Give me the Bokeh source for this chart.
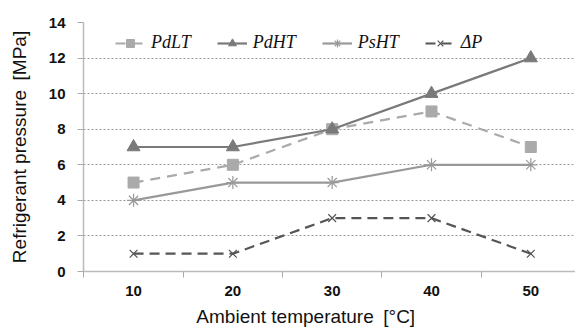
from bokeh.plotting import figure
from bokeh.models import FixedTicker, Range1d, Legend, LegendItem
from bokeh.embed import file_html
from bokeh.resources import INLINE

temps = [10, 20, 30, 40, 50]
tick_labels = ["10", "20", "30", "40", "50"]
pdlt = [5, 6, 8, 9, 7]
pdht = [7, 7, 8, 10, 12]
psht = [4, 5, 5, 6, 6]
dp = [1, 1, 3, 3, 1]

p = figure(width=575, height=332, output_backend="svg", toolbar_location=None,
           x_range=Range1d(4.96, 54.5), y_range=Range1d(0, 14),
           min_border_left=83, min_border_right=0, min_border_top=22, min_border_bottom=61)
p.outline_line_color = None
p.background_fill_color = "white"

# lines and markers
r1l = p.line(temps, pdlt, line_color="#aaaaaa", line_width=2.2, line_dash="10 7")
r1m = p.scatter(temps, pdlt, marker="square", size=11, fill_color="#aaaaaa", line_color="#aaaaaa")
r2l = p.line(temps, pdht, line_color="#7a7a7a", line_width=2.2)
r2m = p.scatter(temps, pdht, marker="triangle", size=13, fill_color="#7a7a7a", line_color="#7a7a7a")
r3l = p.line(temps, psht, line_color="#999999", line_width=2.2)
r3m = p.scatter(temps, psht, marker="asterisk", size=13, line_color="#999999", line_width=1.2)
r4l = p.line(temps, dp, line_color="#555555", line_width=2.2, line_dash="10 6")
r4m = p.scatter(temps, dp, marker="x", size=11, line_color="#555555", line_width=1.2)

# axes
xt = FixedTicker(ticks=temps, minor_ticks=[5, 15, 25, 35, 45, 55])
p.xaxis.ticker = xt
p.xaxis.major_label_overrides = {t: l for t, l in zip(temps, tick_labels)}
p.xaxis.major_tick_out = 0
p.xaxis.major_tick_in = 0
p.xaxis.minor_tick_out = 6
p.xaxis.minor_tick_in = 0
p.xaxis.minor_tick_line_color = "#aaaaaa"
p.xaxis.axis_line_color = "#bbbbbb"
p.xaxis.axis_line_width = 1.5
p.xaxis.major_label_standoff = 8
p.xaxis.axis_label = "Ambient temperature\u2002[\u00b0C]" + "\u00a0" * 9
p.xaxis.axis_label_standoff = 7

p.yaxis.ticker = FixedTicker(ticks=[0, 2, 4, 6, 8, 10, 12, 14])
p.yaxis.major_tick_out = 6
p.yaxis.major_tick_in = 0
p.yaxis.minor_tick_line_color = None
p.yaxis.major_tick_line_color = "#aaaaaa"
p.yaxis.axis_line_color = "#bbbbbb"
p.yaxis.axis_line_width = 1.5
p.yaxis.major_label_standoff = 12
p.yaxis.axis_label = "Refrigerant pressure\u2002[MPa]"
p.yaxis.axis_label_standoff = 16

for ax in (p.xaxis, p.yaxis):
    ax.major_label_text_font = "Arial"
    ax.major_label_text_font_style = "bold"
    ax.major_label_text_font_size = "15px"
    ax.major_label_text_color = "#111111"
    ax.axis_label_text_font = "'Liberation Sans'"
    ax.axis_label_text_font_style = "normal"
    ax.axis_label_text_font_size = "19px"
    ax.axis_label_text_color = "#111111"

p.xgrid.grid_line_color = None
p.ygrid.ticker = FixedTicker(ticks=[2, 4, 6, 8, 10, 12, 14])
p.ygrid.grid_line_color = "#999999"
p.ygrid.grid_line_dash = "2 2"
p.ygrid.grid_line_width = 1

legend = Legend(items=[
    LegendItem(label="PdLT", renderers=[r1l, r1m]),
    LegendItem(label="PdHT", renderers=[r2l, r2m]),
    LegendItem(label="PsHT", renderers=[r3l, r3m]),
    LegendItem(label="\u0394P", renderers=[r4l, r4m]),
], orientation="horizontal", location=(32, 218))
legend.label_text_font = "serif"
legend.label_text_font_style = "italic"
legend.label_text_font_size = "18px"
legend.label_text_color = "#111111"
legend.glyph_width = 30
legend.glyph_height = 20
legend.label_standoff = 6
legend.spacing = 26
legend.padding = 0
legend.margin = 0
legend.border_line_color = None
legend.background_fill_alpha = 0
p.add_layout(legend, "center")

open("out.html", "w").write(file_html(p, INLINE))
